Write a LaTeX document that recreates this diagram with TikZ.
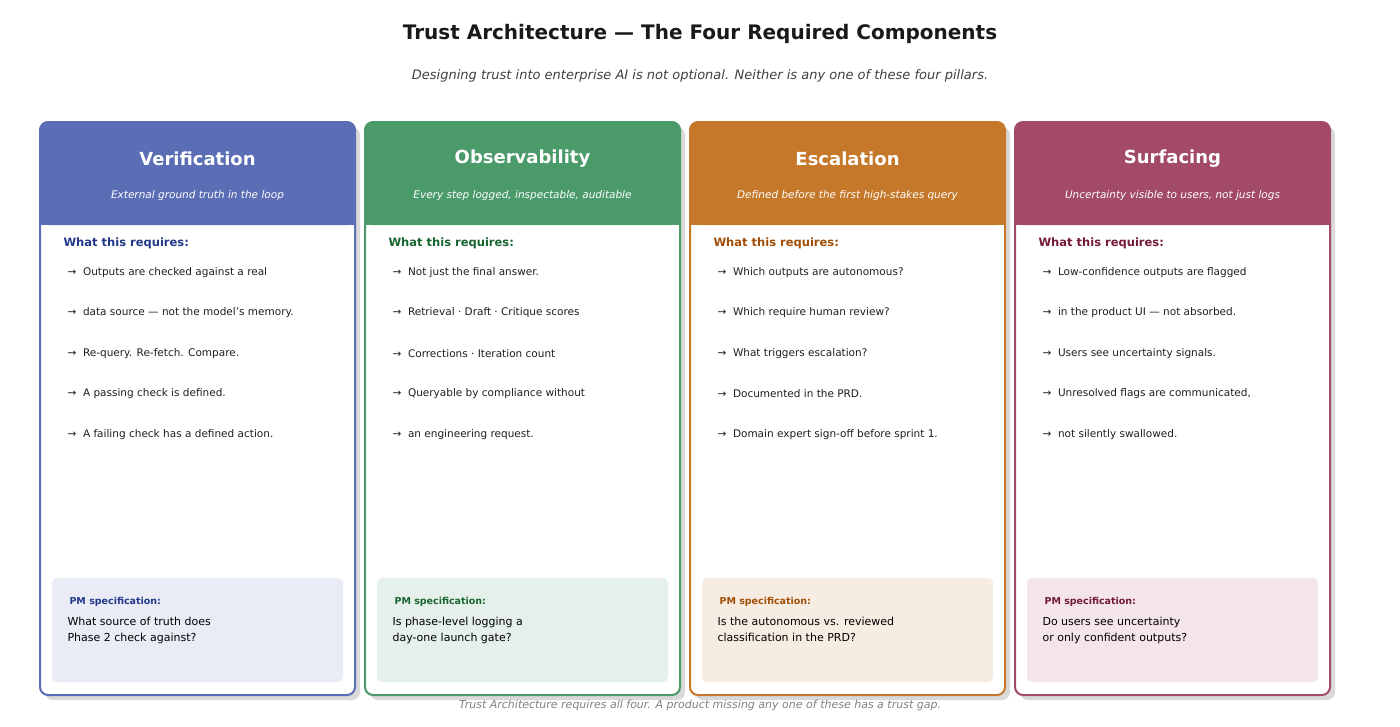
\documentclass[tikz,border=0pt]{standalone}
\usepackage{fontspec}
\setmainfont{DejaVu Sans}
\usetikzlibrary{positioning}
\definecolor{cverif}{HTML}{5B6DB5}\definecolor{dverif}{HTML}{22398A}\definecolor{lverif}{HTML}{E9ECF5}
\definecolor{cobs}{HTML}{4A9A6A}\definecolor{dobs}{HTML}{17652F}\definecolor{lobs}{HTML}{E6F0EA}
\definecolor{cesc}{HTML}{C5782A}\definecolor{desc}{HTML}{A04E05}\definecolor{lesc}{HTML}{F7ECE2}
\definecolor{csurf}{HTML}{A34A6A}\definecolor{dsurf}{HTML}{741937}\definecolor{lsurf}{HTML}{F3E5EA}
\tikzset{
  title/.style={font=\fontsize{20}{24}\selectfont\bfseries, text=black!90},
  subtitle/.style={font=\fontsize{13}{16}\selectfont\itshape, text=black!75},
  head/.style={font=\fontsize{18}{22}\selectfont\bfseries, text=white},
  headsub/.style={font=\fontsize{10.5}{13}\selectfont\itshape, text=white},
  req/.style={anchor=west, font=\fontsize{11.5}{14}\selectfont\bfseries},
  item/.style={anchor=west, font=\fontsize{10.5}{13}\selectfont, text=black!88},
  pmlab/.style={anchor=west, font=\fontsize{9.5}{12}\selectfont\bfseries},
  pmtext/.style={anchor=north west, align=left, font=\fontsize{11}{16}\selectfont, text=black},
  foot/.style={font=\fontsize{11}{14}\selectfont\itshape, text=black!50}
}
% #1 left x, #2 colour key, #3 name, #4 title, #5 tagline, #6 pm text
\newcommand\pillar[6]{%
  \fill[black!15, rounded corners=8] (#1+5,127) rectangle (#1+320,700);
  \fill[white, rounded corners=8] (#1,122) rectangle (#1+315,695);
  \fill[c#2, rounded corners=8] (#1,122) rectangle (#1+315,225);
  \fill[c#2] (#1,200) rectangle (#1+315,225);
  \draw[c#2, line width=2, rounded corners=8] (#1,122) rectangle (#1+315,695);
  \node[head] (#3-title) at (#1+157.5,159) {#4};
  \node[headsub] (#3-tag) at (#1+157.5,196) {#5};
  \node[req, text=d#2] (#3-req) at (#1+20,243) {What this requires:};
  \fill[l#2, rounded corners=5] (#1+12,578) rectangle (#1+303,682);
  \node[pmlab, text=d#2] (#3-pm) at (#1+26,602) {PM specification:};
  \node[pmtext] (#3-pmq) at (#1+24,614) {#6};
}
\newcommand\bullets[6]{%
  \node[item] (#1-a) at (#2+24,273) {$\rightarrow$\ \ #3};
}
\begin{document}
\begin{tikzpicture}[x=1pt,y=-1pt]
\useasboundingbox (0,0) rectangle (1400,726);
\node[title] (head) at (700,34) {Trust Architecture — The Four Required Components};
\node[subtitle] (sub) at (700,76) {Designing trust into enterprise AI is not optional. Neither is any one of these four pillars.};

\pillar{40}{verif}{verif}{Verification}{External ground truth in the loop}{What source of truth does\\Phase 2 check against?}
\pillar{365}{obs}{obs}{Observability}{Every step logged, inspectable, auditable}{Is phase-level logging a\\day-one launch gate?}
\pillar{690}{esc}{esc}{Escalation}{Defined before the first high-stakes query}{Is the autonomous vs. reviewed\\classification in the PRD?}
\pillar{1015}{surf}{surf}{Surfacing}{Uncertainty visible to users, not just logs}{Do users see uncertainty\\or only confident outputs?}

\foreach \x/\n/\a/\b/\c/\d/\e in {
  40/verif/{Outputs are checked against a real}/{data source — not the model's memory.}/{Re-query. Re-fetch. Compare.}/{A passing check is defined.}/{A failing check has a defined action.},
  365/obs/{Not just the final answer.}/{Retrieval · Draft · Critique scores}/{Corrections · Iteration count}/{Queryable by compliance without}/{an engineering request.},
  690/esc/{Which outputs are autonomous?}/{Which require human review?}/{What triggers escalation?}/{Documented in the PRD.}/{Domain expert sign-off before sprint 1.},
  1015/surf/{Low-confidence outputs are flagged}/{in the product UI — not absorbed.}/{Users see uncertainty signals.}/{Unresolved flags are communicated,}/{not silently swallowed.}} {
  \node[item] (\n-1) at (\x+24,273) {→\ \ \a};
  \node[item] (\n-2) at (\x+24,313) {→\ \ \b};
  \node[item] (\n-3) at (\x+24,354) {→\ \ \c};
  \node[item] (\n-4) at (\x+24,394) {→\ \ \d};
  \node[item] (\n-5) at (\x+24,435) {→\ \ \e};
}
\node[foot] (foot) at (700,705) {Trust Architecture requires all four. A product missing any one of these has a trust gap.};
\end{tikzpicture}
\end{document}
